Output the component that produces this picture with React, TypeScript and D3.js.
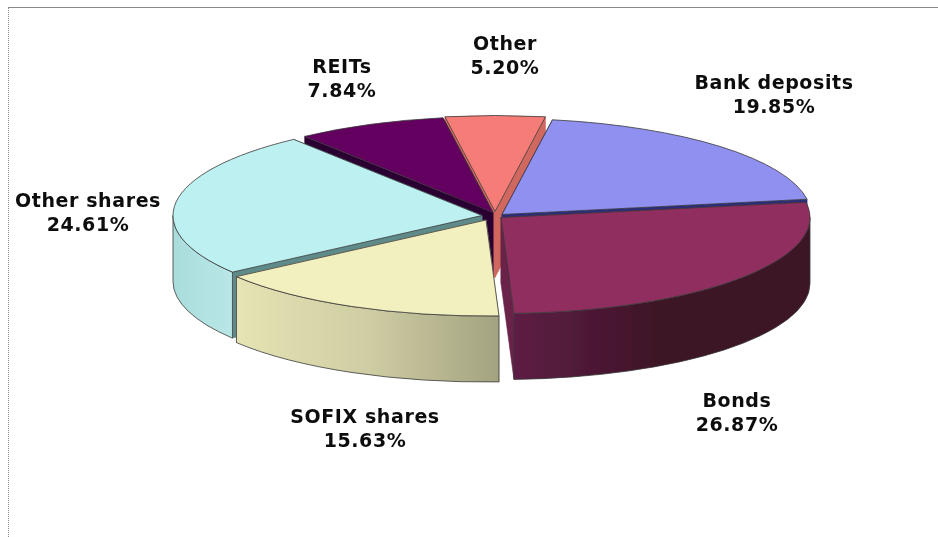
import React from "react";
import * as d3 from "d3";

const categories = ["Bank deposits", "Bonds", "SOFIX shares", "Other shares", "REITs", "Other"];
const shares = [19.85, 26.87, 15.63, 24.61, 7.84, 5.2];
const shareLabels = ["19.85%", "26.87%", "15.63%", "24.61%", "7.84%", "5.20%"];
const topColors = ["#9090f0", "#8f2d5f", "#f3f0c0", "#bdf0f0", "#63005e", "#f67c78"];
const faceColors = ["#2a2f7c", "#6b2149", "#b9b78f", "#5f8a8a", "#2b0030", "#d0675f"];
const wallFrom = ["#6060b0", "#5e1f45", "#e6e3b4", "#a9dcdc", "#400040", "#c05a55"];
const wallMid = ["#6060b0", "#3d1326", "#cfcda3", "#b2e2e2", "#400040", "#c05a55"];
const wallTo = ["#6060b0", "#3c1428", "#a3a381", "#b9e6e6", "#400040", "#c05a55"];

const W = 938, H = 537;
const RX = 309, RY = 96, DEPTH = 66;
const START = (9.4 * Math.PI) / 180;
// centre of each exploded slice's top face
const centreX = [502, 501, 486, 482, 493, 495];
const centreY = [214.5, 217.5, 220, 215.5, 212.5, 211.5];
// label anchors
const labelX = [774, 737, 365, 88, 342, 505];
const labelY = [83, 401, 417, 201, 67, 44];
// painter order, back to front
const paintOrder = [5, 4, 0, 3, 2, 1];

const pie = d3.pie<number>().sort(null).startAngle(START).endAngle(START + 2 * Math.PI);
const arcs = pie(shares);
const topArc = d3.arc();
const stroke = "#3a3a3a";

function rim(cx: number, cy: number, a: number, dy = 0): [number, number] {
  return [cx + RX * Math.sin(a), cy - RY * Math.cos(a) + dy];
}

function wallPath(cx: number, cy: number, a0: number, a1: number) {
  const lo = Math.max(a0, Math.PI / 2);
  const hi = Math.min(a1, (3 * Math.PI) / 2);
  if (hi <= lo) return null;
  const [x0, y0] = rim(cx, cy, lo);
  const [x1, y1] = rim(cx, cy, hi);
  const p = `M${x0},${y0}A${RX},${RY} 0 0 1 ${x1},${y1}L${x1},${y1 + DEPTH}A${RX},${RY} 0 0 0 ${x0},${y0 + DEPTH}Z`;
  return p;
}

function facePath(cx: number, cy: number, a: number) {
  const line = d3.line();
  const [x, y] = rim(cx, cy, a);
  return line([[cx, cy], [x, y], [x, y + DEPTH], [cx, cy + DEPTH]]) + "Z";
}

export default function App() {
  return (
    <svg width={W} height={H} viewBox={`0 0 ${W} ${H}`}
      style={{ position: "absolute", left: 0, top: 0, background: "#fff" }}>
      <defs>
        {categories.map((_, i) => (
          <linearGradient key={i} id={`wall${i}`} x1="0" x2="1" y1="0" y2="0">
            <stop offset="0" stopColor={wallFrom[i]} />
            <stop offset="0.5" stopColor={wallMid[i]} />
            <stop offset="1" stopColor={wallTo[i]} />
          </linearGradient>
        ))}
        <filter id="soft" x="-5%" y="-5%" width="110%" height="110%">
          <feGaussianBlur stdDeviation="0.45" />
        </filter>
      </defs>
      <line x1={8} x2={W} y1={7.5} y2={7.5} stroke="#8a8a8a" strokeWidth={1} />
      <line x1={8.5} x2={8.5} y1={8} y2={H} stroke="#8a8a8a" strokeWidth={1} strokeDasharray="1 1" />
      <g filter="url(#soft)">
        {paintOrder.map((i) => {
          const d = arcs[i];
          const cx = centreX[i], cy = centreY[i];
          const wall = wallPath(cx, cy, d.startAngle, d.endAngle);
          return (
            <g key={i}>
              <path d={facePath(cx, cy, d.startAngle)} fill={faceColors[i]} stroke={faceColors[i]} strokeWidth={0.6} />
              <path d={facePath(cx, cy, d.endAngle)} fill={faceColors[i]} stroke={faceColors[i]} strokeWidth={0.6} />
              {wall && <path d={wall} fill={`url(#wall${i})`} stroke={stroke} strokeWidth={0.8} />}
              <path
                transform={`translate(${cx},${cy}) scale(1,${RY / RX})`}
                d={topArc({ innerRadius: 0, outerRadius: RX, startAngle: d.startAngle, endAngle: d.endAngle })!}
                fill={topColors[i]}
                stroke={stroke}
                strokeWidth={0.8}
                vectorEffect="non-scaling-stroke"
              />
            </g>
          );
        })}
      </g>
      <g fontFamily="'DejaVu Sans', Verdana, sans-serif" fontWeight="700" fontSize={19} letterSpacing={0.6} fill="#111" textAnchor="middle" filter="url(#soft)">
        {categories.map((c, i) => (
          <text key={c} x={labelX[i]} y={labelY[i]}>
            <tspan x={labelX[i]} dy={6}>{c}</tspan>
            <tspan x={labelX[i]} dy={24}>{shareLabels[i]}</tspan>
          </text>
        ))}
      </g>
    </svg>
  );
}
